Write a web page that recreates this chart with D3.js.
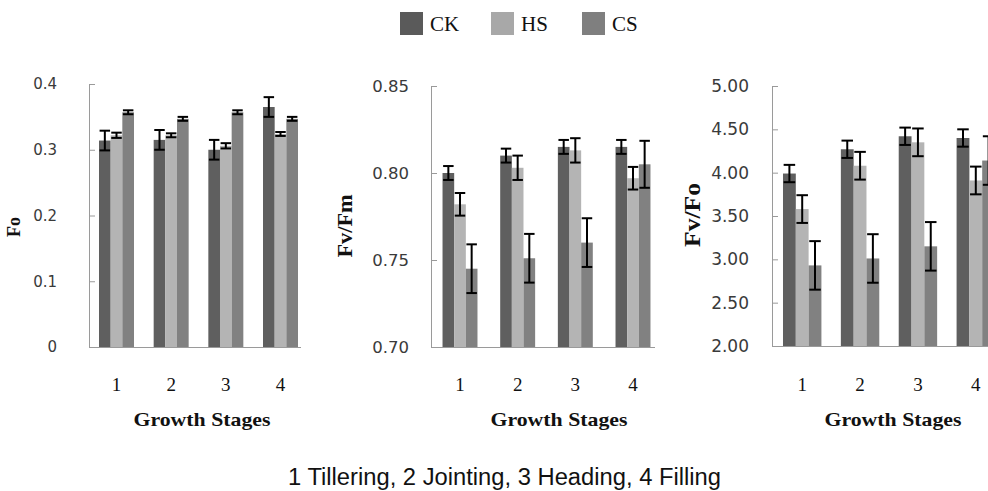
<!DOCTYPE html>
<html lang="en">
<head>
<meta charset="UTF-8">
<title>Chlorophyll fluorescence by growth stage</title>
<script src="https://d3js.org/d3.v7.min.js"></script>
<style>
    body { margin: 0; background: #fff; }
    svg { display: block; }
    .tick-label { font-family: "DejaVu Sans", Verdana, sans-serif; fill: #3a3a3a; }
    .serif { font-family: "Liberation Serif", "Times New Roman", serif; fill: #111; }
</style>
</head>
<body>
<svg id="chart" width="988" height="491"></svg>
<script>
    // Categories and series
    const stages = ['1', '2', '3', '4'];
    const series = ['CK', 'HS', 'CS'];
    const seriesColors = ['#5f5f5f', '#b4b4b4', '#818181'];
    const legendColors = ['#5a5a5a', '#a8a8a8', '#7f7f7f'];

    // Fo
    const foCK = [0.314, 0.315, 0.300, 0.365];
    const foHS = [0.322, 0.322, 0.306, 0.324];
    const foCS = [0.357, 0.347, 0.357, 0.347];
    const foCKErr = [0.015, 0.015, 0.015, 0.015];
    const foHSErr = [0.004, 0.003, 0.004, 0.003];
    const foCSErr = [0.003, 0.003, 0.003, 0.003];
    const foTicks = [0, 0.1, 0.2, 0.3, 0.4];

    // Fv/Fm
    const fmCK = [0.800, 0.810, 0.815, 0.815];
    const fmHS = [0.782, 0.803, 0.813, 0.797];
    const fmCS = [0.745, 0.751, 0.760, 0.805];
    const fmCKErr = [0.004, 0.004, 0.004, 0.004];
    const fmHSErr = [0.0065, 0.007, 0.007, 0.0065];
    const fmCSErr = [0.014, 0.014, 0.014, 0.0135];
    const fmTicks = [0.70, 0.75, 0.80, 0.85];

    // Fv/Fo
    const foRatioCK = [3.99, 4.27, 4.42, 4.40];
    const foRatioHS = [3.58, 4.08, 4.35, 3.91];
    const foRatioCS = [2.93, 3.01, 3.15, 4.14];
    const foRatioCKErr = [0.10, 0.10, 0.10, 0.10];
    const foRatioHSErr = [0.16, 0.16, 0.16, 0.16];
    const foRatioCSErr = [0.28, 0.28, 0.28, 0.28];
    const foRatioTicks = [2.00, 2.50, 3.00, 3.50, 4.00, 4.50, 5.00];

    const panels = [
        {
            title: 'Fo', values: [foCK, foHS, foCS], errors: [foCKErr, foHSErr, foCSErr],
            ticks: foTicks, fmt: d => d === 0 ? '0' : d3.format('.1f')(d),
            x0: 89, x1: 301, bandEnd: 308, padIn: 0.36, padOut: 0.183,
            yTop: 84, yBot: 347, labelGap: 32, labelSize: 15,
            titleX: 20, titleY: 227, titleSize: 18, titleLen: 20, growthX: 202
        },
        {
            title: 'Fv/Fm', values: [fmCK, fmHS, fmCS], errors: [fmCKErr, fmHSErr, fmCSErr],
            ticks: fmTicks, fmt: d3.format('.2f'),
            x0: 431, x1: 655, bandEnd: 662, padIn: 0.394, padOut: 0.2,
            yTop: 86, yBot: 347, labelGap: 22, labelSize: 16.5,
            titleX: 352, titleY: 226, titleSize: 21, titleLen: 63, growthX: 559
        },
        {
            title: 'Fv/Fo', values: [foRatioCK, foRatioHS, foRatioCS], errors: [foRatioCKErr, foRatioHSErr, foRatioCSErr],
            ticks: foRatioTicks, fmt: d3.format('.2f'),
            x0: 772, x1: 997, bandEnd: 1006, padIn: 0.336, padOut: 0.19,
            yTop: 86, yBot: 346, labelGap: 23, labelSize: 17,
            titleX: 700, titleY: 215, titleSize: 23, titleLen: 64, growthX: 893
        }
    ];

    const svg = d3.select('#chart');
    svg.append('rect').attr('width', 988).attr('height', 491).attr('fill', '#fff');

    panels.forEach(p => {
        const g = svg.append('g');
        const y = d3.scaleLinear().domain([p.ticks[0], p.ticks[p.ticks.length - 1]]).range([p.yBot, p.yTop]);
        const x = d3.scaleBand().domain(stages).range([p.x0, p.bandEnd]).paddingInner(p.padIn).paddingOuter(p.padOut);
        const xs = d3.scaleBand().domain(series).range([0, x.bandwidth()]);

        // bars
        series.forEach((s, si) => {
            g.append('g').selectAll('rect')
                .data(stages)
                .join('rect')
                .attr('x', (d, i) => x(d) + xs(s))
                .attr('y', (d, i) => y(p.values[si][i]))
                .attr('width', xs.bandwidth())
                .attr('height', (d, i) => p.yBot - y(p.values[si][i]))
                .attr('fill', seriesColors[si]);
        });

        // error bars
        series.forEach((s, si) => {
            const eg = g.append('g').attr('stroke', '#000').attr('stroke-width', 2);
            stages.forEach((d, i) => {
                const cx = x(d) + xs(s) + xs.bandwidth() / 2;
                const v = p.values[si][i], e = p.errors[si][i];
                const hw = xs.bandwidth() * 0.45;
                eg.append('line').attr('x1', cx).attr('x2', cx).attr('y1', y(v + e)).attr('y2', y(v - e));
                eg.append('line').attr('x1', cx - hw).attr('x2', cx + hw).attr('y1', y(v + e)).attr('y2', y(v + e));
                eg.append('line').attr('x1', cx - hw).attr('x2', cx + hw).attr('y1', y(v - e)).attr('y2', y(v - e));
            });
        });

        // y axis with inward ticks
        const yAxis = g.append('g').attr('transform', `translate(${p.x0},0)`)
            .call(d3.axisRight(y).tickValues(p.ticks).tickSize(6).tickFormat(''));
        yAxis.select('.domain').attr('stroke', '#9a9a9a').attr('d', `M6,${p.yTop + 0.5}H0.5V${p.yBot + 0.5}`);
        yAxis.selectAll('.tick line').attr('stroke', '#9a9a9a');

        g.append('g').selectAll('text')
            .data(p.ticks)
            .join('text')
            .attr('class', 'tick-label')
            .attr('x', p.x0 - p.labelGap)
            .attr('y', d => y(d))
            .attr('dy', '0.36em')
            .attr('text-anchor', 'end')
            .attr('font-size', p.labelSize)
            .text(p.fmt);

        // x axis baseline, no ticks
        g.append('line')
            .attr('x1', p.x0).attr('x2', p.x1)
            .attr('y1', p.yBot + 0.5).attr('y2', p.yBot + 0.5)
            .attr('stroke', '#9a9a9a');

        g.append('g').selectAll('text')
            .data(stages)
            .join('text')
            .attr('class', 'serif')
            .attr('x', d => x(d) + x.bandwidth() / 2)
            .attr('y', 391)
            .attr('text-anchor', 'middle')
            .attr('font-size', 19)
            .text(d => d);

        g.append('text')
            .attr('class', 'serif')
            .attr('x', p.growthX)
            .attr('y', 426)
            .attr('text-anchor', 'middle')
            .attr('font-size', 19)
            .attr('font-weight', 'bold')
            .attr('textLength', 137)
            .attr('lengthAdjust', 'spacingAndGlyphs')
            .text('Growth Stages');

        g.append('text')
            .attr('class', 'serif')
            .attr('transform', `translate(${p.titleX},${p.titleY}) rotate(-90)`)
            .attr('text-anchor', 'middle')
            .attr('font-size', p.titleSize)
            .attr('font-weight', 'bold')
            .attr('textLength', p.titleLen)
            .attr('lengthAdjust', 'spacingAndGlyphs')
            .text(p.title);
    });

    // legend
    const legendX = [400, 491, 582];
    const legend = svg.append('g');
    series.forEach((s, i) => {
        legend.append('rect')
            .attr('x', legendX[i]).attr('y', 12)
            .attr('width', 23).attr('height', 23)
            .attr('fill', legendColors[i]);
        legend.append('text')
            .attr('class', 'serif')
            .attr('x', legendX[i] + 30).attr('y', 31)
            .attr('font-size', 21)
            .text(s);
    });

    // caption
    svg.append('text')
        .attr('x', 288).attr('y', 485)
        .attr('font-family', '"Liberation Sans", Arial, sans-serif')
        .attr('font-size', 23)
        .attr('fill', '#111')
        .attr('textLength', 433)
        .attr('lengthAdjust', 'spacingAndGlyphs')
        .text('1 Tillering, 2 Jointing, 3 Heading, 4 Filling');
</script>
</body>
</html>
